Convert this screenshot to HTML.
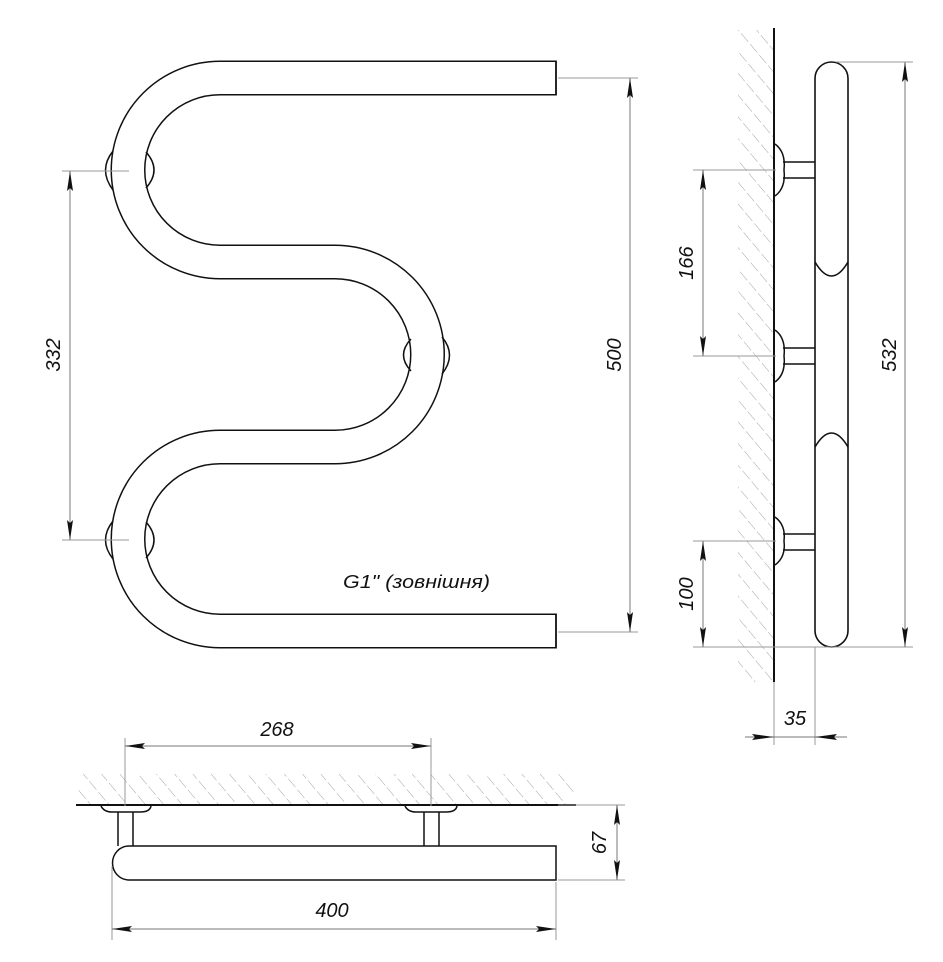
<!DOCTYPE html>
<html><head><meta charset="utf-8"><style>
html,body{margin:0;padding:0;background:#fff;}
svg{display:block;}
text{font-family:"Liberation Sans",sans-serif;font-style:italic;fill:#111;}
</style></head><body>
<svg width="943" height="962" viewBox="0 0 943 962" xmlns="http://www.w3.org/2000/svg">
<defs>
<pattern id="h" width="14" height="14" patternUnits="userSpaceOnUse" patternTransform="rotate(-40)">
<line x1="0" y1="0" x2="0" y2="14" stroke="#999" stroke-width="0.9" stroke-dasharray="9 3"/>
</pattern>
<marker id="a" viewBox="0 0 20 8" refX="20" refY="4" markerWidth="20" markerHeight="8" markerUnits="userSpaceOnUse" orient="auto-start-reverse">
<path d="M0,1 L20,4 L0,7 L3,4 Z" fill="#111"/>
</marker>
</defs>

<!-- FRONT VIEW -->
<path d="M556,78 H220 A91.5,91.5 0 0 0 220,262 H335 A92.5,92.5 0 0 1 335,447 H220 A92,92 0 0 0 220,631 H556" fill="none" stroke="#111" stroke-width="35"/>
<path d="M557,78 H220 A91.5,91.5 0 0 0 220,262 H335 A92.5,92.5 0 0 1 335,447 H220 A92,92 0 0 0 220,631 H557" fill="none" stroke="#fff" stroke-width="32"/>
<line x1="556" y1="60.5" x2="556" y2="95.5" stroke="#111" stroke-width="1.8"/>
<line x1="556" y1="613.5" x2="556" y2="648.5" stroke="#111" stroke-width="1.8"/>
<g fill="none" stroke="#111" stroke-width="1.5">
<path d="M113,151 Q98,170 113,190"/>
<path d="M146,152 Q162,170 146,188"/>
<path d="M113,521 Q98,540 113,559"/>
<path d="M146,522 Q162,540 146,558"/>
<path d="M442,337 Q457,355 442,374"/>
<path d="M411,339 Q396,355 411,371"/>
</g>
<g stroke="#999" stroke-width="1">
<line x1="62" y1="171" x2="129" y2="171"/>
<line x1="62" y1="540" x2="129" y2="540"/>
<line x1="558" y1="78" x2="638" y2="78"/>
<line x1="558" y1="632" x2="638" y2="632"/>
</g>
<g stroke="#777" stroke-width="1" marker-start="url(#a)" marker-end="url(#a)">
<line x1="70" y1="171" x2="70" y2="540"/>
<line x1="630" y1="78" x2="630" y2="632"/>
</g>
<text x="0" y="0" font-size="20" transform="translate(60,355) rotate(-90)" text-anchor="middle">332</text>
<text x="0" y="0" font-size="20" transform="translate(621,355) rotate(-90)" text-anchor="middle">500</text>
<text x="343" y="588" font-size="18" textLength="147" lengthAdjust="spacingAndGlyphs">G1" (зовнішня)</text>

<!-- SIDE VIEW -->
<rect x="738" y="30" width="36" height="652" fill="url(#h)"/>
<line x1="774" y1="28" x2="774" y2="682" stroke="#111" stroke-width="2"/>
<rect x="815" y="62" width="33" height="585" rx="16.5" ry="16.5" fill="#fff" stroke="#111" stroke-width="1.6"/>
<path d="M815,262 Q831.5,290 848,262" fill="none" stroke="#111" stroke-width="1.6"/>
<path d="M815,447 Q831.5,419 848,447" fill="none" stroke="#111" stroke-width="1.6"/>
<g fill="none" stroke="#111" stroke-width="1.5">
<line x1="783" y1="162" x2="815" y2="162"/><line x1="783" y1="178" x2="815" y2="178"/>
<path d="M775,144 Q786,152 784,170 Q786,188 775,196"/>
<line x1="783" y1="348" x2="815" y2="348"/><line x1="783" y1="364" x2="815" y2="364"/>
<path d="M775,330 Q786,338 784,356 Q786,374 775,382"/>
<line x1="783" y1="534" x2="815" y2="534"/><line x1="783" y1="550" x2="815" y2="550"/>
<path d="M775,517 Q786,525 784,541 Q786,557 775,565"/>
</g>
<g stroke="#999" stroke-width="1">
<line x1="693" y1="170" x2="776" y2="170"/>
<line x1="693" y1="356" x2="776" y2="356"/>
<line x1="693" y1="541" x2="776" y2="541"/>
<line x1="693" y1="647" x2="848" y2="647"/>
<line x1="836" y1="62" x2="913" y2="62"/>
<line x1="836" y1="647" x2="913" y2="647"/>
<line x1="774" y1="682" x2="774" y2="745"/>
<line x1="815" y1="647" x2="815" y2="745"/>
</g>
<g stroke="#777" stroke-width="1" marker-start="url(#a)" marker-end="url(#a)">
<line x1="703" y1="170" x2="703" y2="356"/>
<line x1="703" y1="541" x2="703" y2="647"/>
<line x1="905" y1="62" x2="905" y2="647"/>
</g>
<line x1="745" y1="737" x2="847" y2="737" stroke="#777" stroke-width="1"/>
<path d="M752,734 L774,737 L752,740 L755,737Z" fill="#111"/>
<path d="M837,734 L815,737 L837,740 L834,737Z" fill="#111"/>
<text font-size="20" transform="translate(693,263) rotate(-90)" text-anchor="middle">166</text>
<text font-size="20" transform="translate(693,594) rotate(-90)" text-anchor="middle">100</text>
<text font-size="20" transform="translate(896,355) rotate(-90)" text-anchor="middle">532</text>
<text x="795" y="725" font-size="20" text-anchor="middle">35</text>

<!-- TOP VIEW -->
<rect x="78" y="774" width="497" height="31" fill="url(#h)"/>
<line x1="76" y1="805" x2="576" y2="805" stroke="#111" stroke-width="2"/>
<g fill="#fff" stroke="#111" stroke-width="1.5">
<path d="M101,806 Q104,812 112,812 H140 Q150,812 151,806"/>
<path d="M405,806 Q408,812 416,812 H446 Q456,812 457,806"/>
<line x1="118" y1="812" x2="118" y2="846"/><line x1="133" y1="812" x2="133" y2="846"/>
<line x1="424" y1="812" x2="424" y2="846"/><line x1="439" y1="812" x2="439" y2="846"/>
<path d="M556,846 H129 A16.5,17 0 0 0 129,880 H556 Z"/>
</g>
<g stroke="#999" stroke-width="1">
<line x1="125" y1="738" x2="125" y2="806"/>
<line x1="431" y1="738" x2="431" y2="806"/>
<line x1="112" y1="866" x2="112" y2="940"/>
<line x1="556" y1="882" x2="556" y2="940"/>
<line x1="558" y1="805" x2="625" y2="805"/>
<line x1="558" y1="880" x2="625" y2="880"/>
</g>
<g stroke="#777" stroke-width="1" marker-start="url(#a)" marker-end="url(#a)">
<line x1="125" y1="746" x2="431" y2="746"/>
<line x1="112" y1="929" x2="556" y2="929"/>
<line x1="617" y1="805" x2="617" y2="880"/>
</g>
<text x="277" y="736" font-size="20" text-anchor="middle">268</text>
<text x="332" y="917" font-size="20" text-anchor="middle">400</text>
<text font-size="20" transform="translate(606,843) rotate(-90)" text-anchor="middle">67</text>
</svg>
</body></html>
